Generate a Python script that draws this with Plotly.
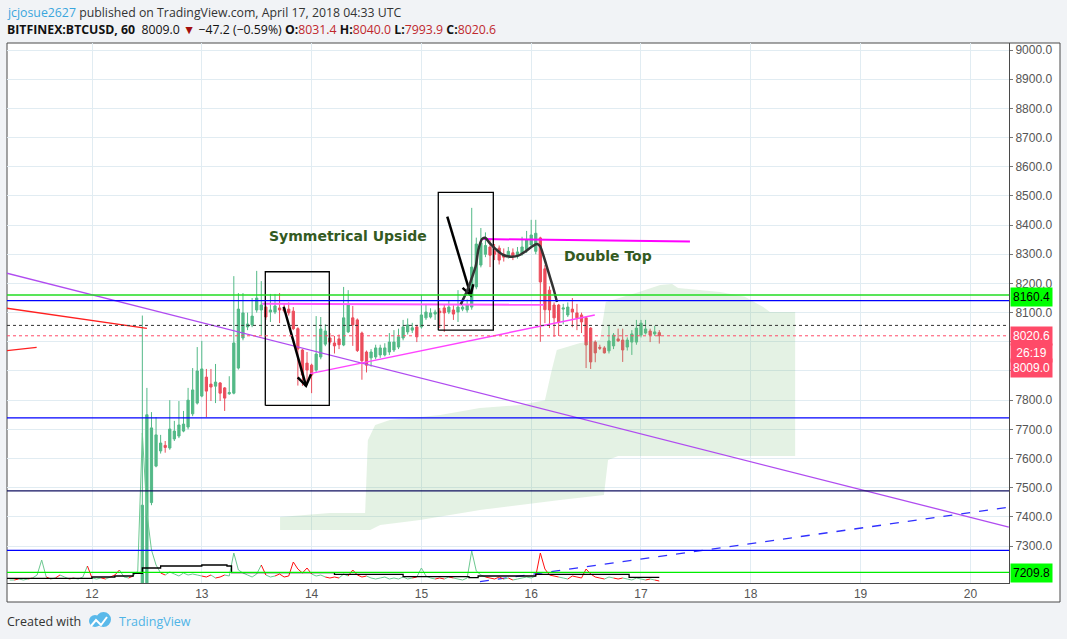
import plotly.graph_objects as go
import pandas as pd

BASE = pd.Timestamp("2018-04-12 00:00:00")

# ---------------- hourly candles (hours after 2018-04-12 00:00 UTC) ----------------
candle_hours = list(range(11, 125))
opens = [6950,7150,7449,7574,7626,7645,7636,7667,7677,7694,
         7708,7753,7790,7814,7879,7855,7848,7859,7842,7822,
         7824,7910,8013,8051,8058,8109,8109,8119,8102,8102,
         8116,8114,8112,8105,8045,7972,7927,7920,7903,7948,
         7992,8013,7996,8010,7989,8034,8082,8075,8030,7965,
         7945,7948,7955,7955,7965,7972,7982,8013,8034,8040,
         8051,8051,8082,8085,8095,8105,8116,8102,8109,8102,
         8112,8109,8119,8188,8263,8300,8325,8310,8321,8300,
         8295,8305,8295,8304,8315,8332,8310,8356,8250,8177,
         8126,8126,8112,8092,8112,8099,8092,8082,8047,7999,
         7981,7979,7969,7986,8010,8006,7982,7999,7999,8023,
         8030,8037,8027,8031.4]
highs = [8090,7842,7759,7742,7681,7660,7800,7729,7797,7763,
         7842,7910,7982,8003,7907,7907,7924,7862,7845,7882,
         8225,8167,8167,8100,8150,8243,8208,8125,8164,8164,
         8167,8130,8135,8119,8050,7975,7965,7925,8088,8085,
         8060,8030,8020,8025,8188,8177,8123,8080,8035,7970,
         7975,7990,7990,7995,8030,8040,8045,8075,8080,8065,
         8058,8160,8130,8115,8110,8116,8126,8140,8125,8177,
         8150,8145,8459,8357,8390,8375,8349,8335,8330,8320,
         8325,8320,8325,8360,8380,8418,8418,8360,8263,8190,
         8135,8130,8130,8135,8150,8130,8100,8085,8050,8005,
         7990,7985,8058,8030,8045,8045,8015,8040,8075,8075,
         8075,8045,8055,8040]
lows = [6900,7100,7440,7570,7617,7620,7630,7660,7670,7690,
        7700,7745,7785,7810,7742,7797,7790,7797,7763,7818,
        7820,7905,8005,8040,8050,8100,8023,8075,8068,8095,
        8064,8100,8090,8040,7850,7849,7852,7824,7895,7940,
        7985,7990,7960,7975,7985,8030,7986,7965,7870,7895,
        7915,7940,7945,7950,7955,7965,7975,8005,8025,8030,
        7999,8045,8075,8080,8075,8047,8034,8095,8075,8068,
        8105,8100,8110,8180,8255,8290,8256,8280,8265,8275,
        8285,8280,8285,8295,8305,8325,8300,8000,8064,8047,
        8017,8020,8060,8085,8050,8040,8030,7910,7907,7930,
        7972,7960,7960,7975,8000,7931,7970,7955,7990,8015,
        8025,7999,8020,7993.9]
closes = [7440,7750,7705,7681,7653,7638,7701,7694,7715,7718,
          7800,7835,7900,7907,7831,7845,7862,7824,7807,7826,
          7996,8112,8099,8061,8088,8150,8126,8085,8109,8123,
          8109,8106,8099,8045,7975,7886,7903,7886,7958,8044,
          8037,7999,7986,7990,8082,8126,8058,7970,7935,7920,
          7965,7979,7979,7979,7999,7999,8017,8051,8058,8048,
          8017,8092,8102,8099,8102,8100,8099,8119,8095,8119,
          8119,8126,8256,8335,8339,8330,8297,8300,8280,8290,
          8310,8295,8308,8325,8349,8366,8372,8205,8110,8109,
          8082,8068,8116,8119,8102,8082,8068,7989,7931,7962,
          7978,7962,8003,8023,8003,7972,8006,8027,8047,8064,
          8044,8023,8034,8020.6]

# ---------------- cloud (senkou spans, projected forward) ----------------
cloud_top_hours = [41.1,52.0,59.7,60.3,61.9,65.1,76.1,84.8,93.6,99.0,100.5,101.6,106.7,111.0,
                   112.3,118.9,124.2,126.8,128.1,137.3,142.7,146.7,148.2,153.7]
cloud_top = [7400,7413,7413,7663,7715,7732,7749,7773,7783,7800,7903,7972,7996,8006,
             8136,8167,8195,8198,8184,8171,8154,8119,8102,8102]
cloud_bot_hours = [41.1,60.8,63.0,71.7,84.8,93.6,102.3,111.9,112.8,115.0,153.7]
cloud_bot = [7355,7355,7372,7389,7424,7441,7458,7475,7595,7609,7609]

# ---------------- lower overlay indicator ----------------
ind_hours = list(range(-18, 125))
ind_vals = [3,3,4,3,4,5,8,23,6,4,
            5,8,6,4,5,4,6,17,5,4,
            5,4,6,8,13,6,5,7,12,150,
            70,33,18,10,8,11,9,7,10,8,
            9,8,7,6,8,5,6,8,7,30,
            13,10,8,6,9,18,8,6,7,9,
            6,7,21,14,10,15,9,7,8,6,
            5,6,5,9,7,13,8,6,7,5,
            4,5,6,4,5,4,6,4,5,6,
            15,7,5,4,5,4,6,5,4,3,
            5,32,12,8,6,5,4,6,4,5,
            3,4,5,6,5,7,30,14,8,7,
            6,5,4,7,6,5,14,9,6,5,
            4,6,5,4,5,4,3,5,4,3,
            4,3,2]
pre_dirs = [1,1,0,1,1,0,1,1,1,0,1,0,1,1,0,1,1,1,0,1,1,0,1,0,0,1,1,0,1]
avg_hours = [-18.6,0,5,9,11,15,24,29.5,30.5,38.5,53,68,82.4,84.4,95,97,116.5,117.4,124]
avg_vals = [4.7,6,7,9.7,15,17,18,17,10.3,10.3,8.7,6.3,5.3,7,7,8.7,8.7,5.7,5.7]

# ---------------- drawings (hour offset, price) ----------------
hlines = [8160.4, 8141, 7739, 7489, 7285, 7209.8]
hline_colors = ["#22dd22", "#0000ff", "#0000ff", "#101060", "#0000ff", "#00ee00"]
prev_close = 8056.2
last_price = 8020.6

purple_h = [-18.6, 200.4];   purple_p = [8235, 7365]
red1_h = [-18.6, 12.0];      red1_p = [8115, 8046]
red2_h = [-18.6, -12.1];     red2_p = [7970, 7981]
tri_top_h = [37.2, 98.8];    tri_top_p = [8130, 8127]
tri_bot_h = [47.7, 109.9];   tri_bot_p = [7891, 8092]
dtop_h = [85.5, 130.7];      dtop_p = [8352, 8344]
bluedash_h = [84.8, 200.4];  bluedash_p = [7178, 7433]
box1_h = [37.88, 51.87];     box1_p = [7782, 8240]
box2_h = [75.69, 87.72];     box2_p = [8040, 8512]
arrow1_h = [41.9, 46.78];    arrow1_p = [8120, 7849]
arrow1_barbs_h = [44.96, 46.78, 47.87]; arrow1_barbs_p = [7878, 7849, 7889]
arrow2_h = [77.66, 82.78];   arrow2_p = [8429, 8160]
arrow2_barbs_h = [81.0, 82.78, 83.34];  arrow2_barbs_p = [8185, 8160, 8197]
curve_h = [80.59,81.90,82.99,83.93,84.44,85.25,85.90,86.99,88.46,89.90,91.74,93.18,
           94.64,96.11,97.27,97.92,98.64,99.74,100.83,101.64]
curve_p = [8128.5,8171.7,8217.6,8263.2,8314.6,8352.3,8356.7,8337.5,8314.6,8297.5,8291.6,
           8295.1,8308.8,8325.9,8335.2,8328.3,8297.5,8240.2,8184.4,8136.4]

y_ticks = list(range(7300, 9001, 100))
x_days = list(range(12, 21))

# ---------------- helpers ----------------
def ts(h):
    return (BASE + pd.Timedelta(hours=h)).strftime("%Y-%m-%d %H:%M:%S")

def tl(hs):
    return [ts(h) for h in hs]

PL, PR, PT, PB = 7, 1009, 43, 583
def px(x):
    return (x - PL) / (PR - PL)
def py(y):
    return (PB - y) / (PB - PT)

GREEN = "#53b987"
RED = "#eb4d5c"
PAGE_BG = "#f1f3f6"

fig = go.Figure()

# cloud
fig.add_trace(go.Scatter(
    x=tl(cloud_top_hours) + tl(cloud_bot_hours[::-1]),
    y=cloud_top + cloud_bot[::-1],
    fill="toself", fillcolor="rgba(120,190,120,0.2)", line=dict(width=0),
    mode="lines", hoverinfo="skip", showlegend=False))

# candles
fig.add_trace(go.Candlestick(
    x=tl(candle_hours), open=opens, high=highs, low=lows, close=closes,
    increasing=dict(line=dict(color=GREEN, width=1), fillcolor=GREEN),
    decreasing=dict(line=dict(color=RED, width=1), fillcolor=RED),
    whiskerwidth=0, showlegend=False, hoverinfo="skip"))

def line(hs, ps, color, width=1, dash=None, axis="y"):
    fig.add_trace(go.Scatter(x=tl(hs), y=ps, mode="lines",
                             line=dict(color=color, width=width, dash=dash),
                             hoverinfo="skip", showlegend=False, yaxis=axis))

# indicator overlay
dirs = pre_dirs + [1 if c >= o else 0 for o, c in zip(opens, closes)]
segs = {0: ([], []), 1: ([], [])}
for i in range(1, len(ind_hours)):
    xs, ys = segs[dirs[i]]
    xs += [ts(ind_hours[i - 1]), ts(ind_hours[i]), None]
    ys += [ind_vals[i - 1], ind_vals[i], None]
fig.add_trace(go.Scatter(x=segs[1][0], y=segs[1][1], mode="lines", yaxis="y2",
                         line=dict(color="#6cc890", width=1), hoverinfo="skip", showlegend=False))
fig.add_trace(go.Scatter(x=segs[0][0], y=segs[0][1], mode="lines", yaxis="y2",
                         line=dict(color="#ff1010", width=1), hoverinfo="skip", showlegend=False))
fig.add_trace(go.Scatter(x=tl(avg_hours), y=avg_vals, mode="lines", yaxis="y2",
                         line=dict(color="#000000", width=1.3, shape="hv"), hoverinfo="skip", showlegend=False))

# drawings
line(red1_h, red1_p, "#ff2020", 1.3)
line(red2_h, red2_p, "#ff2020", 1.3)
line(purple_h, purple_p, "#b04cf0", 1.3)
line(tri_top_h, tri_top_p, "#ff55ff", 2)
line(tri_bot_h, tri_bot_p, "#ff44ff", 1.5)
line(dtop_h, dtop_p, "#ff00ff", 2)
line(bluedash_h, bluedash_p, "#3030ff", 1.3, "dash")
line([box1_h[0], box1_h[1], box1_h[1], box1_h[0], box1_h[0]],
     [box1_p[0], box1_p[0], box1_p[1], box1_p[1], box1_p[0]], "#000000", 1.3)
line([box2_h[0], box2_h[1], box2_h[1], box2_h[0], box2_h[0]],
     [box2_p[0], box2_p[0], box2_p[1], box2_p[1], box2_p[0]], "#000000", 1.3)
line(arrow1_h, arrow1_p, "#000000", 2.5)
line(arrow1_barbs_h, arrow1_barbs_p, "#000000", 2.5)
line(arrow2_h, arrow2_p, "#000000", 2.5)
line(arrow2_barbs_h, arrow2_barbs_p, "#000000", 2.5)
fig.add_trace(go.Scatter(x=tl(curve_h), y=curve_p, mode="lines",
                         line=dict(color="#333333", width=2.5, shape="spline", smoothing=0.8),
                         hoverinfo="skip", showlegend=False))

shapes = []
# white chart frame
shapes.append(dict(type="rect", xref="paper", yref="paper", x0=px(7), x1=px(1060), y0=py(602), y1=py(43),
                   fillcolor="white", line=dict(color="#4a4a4a", width=1), layer="below"))
for p, c in zip(hlines, hline_colors):
    shapes.append(dict(type="line", xref="paper", yref="y", x0=0, x1=1, y0=p, y1=p,
                       line=dict(color=c, width=1.3)))
shapes.append(dict(type="line", xref="paper", yref="y", x0=0, x1=1, y0=prev_close, y1=prev_close,
                   line=dict(color="#333333", width=1, dash="dot")))
shapes.append(dict(type="line", xref="paper", yref="y", x0=0, x1=1, y0=last_price, y1=last_price,
                   line=dict(color="#ff4a68", width=1, dash="dot")))
# footer logo
shapes.append(dict(type="circle", xref="paper", yref="paper", x0=px(89), x1=px(101), y0=py(627), y1=py(615),
                   fillcolor="#5ab9ea", line=dict(width=0)))
shapes.append(dict(type="circle", xref="paper", yref="paper", x0=px(96), x1=px(111), y0=py(627), y1=py(612),
                   fillcolor="#5ab9ea", line=dict(width=0)))
shapes.append(dict(type="path", xref="paper", yref="paper",
                   path=f"M {px(91)} {py(626)} L {px(96)} {py(620)} L {px(101)} {py(625)} L {px(107)} {py(617)}",
                   line=dict(color="white", width=2)))

annotations = []
FONT = "Open Sans"
annotations.append(dict(xref="paper", yref="paper", x=px(5), y=py(12), xanchor="left", yanchor="middle",
                        showarrow=False, font=dict(family=FONT, size=12.3, color="#333333"),
                        text="<span style='color:#3aa6dd'>jcjosue2627</span> published on TradingView.com, April 17, 2018 04:33 UTC"))
annotations.append(dict(xref="paper", yref="paper", x=px(5), y=py(30), xanchor="left", yanchor="middle",
                        showarrow=False, font=dict(family=FONT, size=12.3, color="#111111"),
                        text="<b>BITFINEX:BTCUSD, 60</b>  8009.0 <span style='color:#a30d0d'>▼</span> −47.2 (−0.59%) "
                             "<b>O:</b><span style='color:#c0282d'>8031.4</span> "
                             "<b>H:</b><span style='color:#c0282d'>8040.0</span> "
                             "<b>L:</b><span style='color:#c0282d'>7993.9</span> "
                             "<b>C:</b><span style='color:#c0282d'>8020.6</span>"))
annotations.append(dict(xref="paper", yref="paper", x=px(5), y=py(621), xanchor="left", yanchor="middle",
                        showarrow=False, font=dict(family=FONT, size=12.5, color="#333333"), text="Created with"))
annotations.append(dict(xref="paper", yref="paper", x=px(117), y=py(621), xanchor="left", yanchor="middle",
                        showarrow=False, font=dict(family=FONT, size=12.5, color="#4fb4e6"), text="TradingView"))
# chart texts
annotations.append(dict(x=ts(55.96), y=8363, xref="x", yref="y", showarrow=False,
                        font=dict(family="DejaVu Sans", size=14, color="#335a22"), text="<b>Symmetrical Upside</b>"))
annotations.append(dict(x=ts(112.8), y=8294, xref="x", yref="y", showarrow=False,
                        font=dict(family="DejaVu Sans", size=14, color="#335a22"), text="<b>Double Top</b>"))
# price badges
def badge(text, y, bg, fg):
    annotations.append(dict(xref="paper", yref="paper", x=px(1010), y=py(y), xanchor="left", yanchor="middle",
                            showarrow=False, text=text, bgcolor=bg, borderpad=2,
                            font=dict(family="Liberation Sans", size=12, color=fg)))
badge("8160.4", 297, "#00ff00", "#000000")
badge("8020.6", 336, "#ff4a68", "#ffffff")
badge(" 26:19 ", 353, "#ff4a68", "#ffffff")
badge("8009.0", 368, "#ff4a68", "#ffffff")
badge("7209.8", 573, "#00ff00", "#000000")

fig.update_layout(
    width=1067, height=639,
    margin=dict(l=PL, r=1067 - PR, t=PT, b=639 - PB),
    paper_bgcolor=PAGE_BG, plot_bgcolor="white",
    showlegend=False, shapes=shapes, annotations=annotations,
    xaxis=dict(type="date", range=[ts(-18.58), ts(200.44)], rangeslider=dict(visible=False),
               tickvals=[ts(24 * (d - 12)) for d in x_days], ticktext=[str(d) for d in x_days],
               gridcolor="#e1ecf2", showline=True, linecolor="#4a4a4a", ticks="",
               tickfont=dict(family="Liberation Sans", size=12, color="#555555"), zeroline=False),
    yaxis=dict(side="right", range=[7173.4, 9024], tickvals=y_ticks,
               ticktext=["" if v in (7900, 8000) else f"{v:.1f}" for v in y_ticks],
               gridcolor="#e1ecf2", showline=True, linecolor="#4a4a4a",
               ticks="outside", ticklen=3, tickcolor="#777777",
               tickfont=dict(family="Liberation Sans", size=12, color="#555555"), zeroline=False),
    yaxis2=dict(overlaying="y", range=[0, 540], visible=False, fixedrange=True),
)

fig.write_html("out.html", config={"displayModeBar": False},
               post_script="document.body.style.margin='0';document.body.style.background='%s';" % PAGE_BG)
